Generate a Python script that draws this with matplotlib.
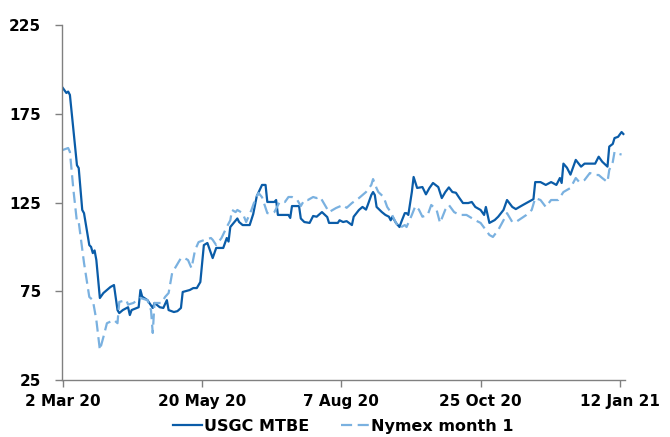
import numpy as np
import pandas as pd
import matplotlib
matplotlib.use("Agg")
import matplotlib.pyplot as plt

start = pd.Timestamp("2020-03-02")

# USGC MTBE, days since 2 Mar 20
mtbe_days = [0, 2, 3, 4, 6, 8, 9, 11, 12, 15, 16, 17, 18, 19, 21, 23, 25, 27, 29, 31,
             32, 34, 37, 38, 39, 43, 44, 45, 48, 51, 52, 55, 57, 59, 60, 63, 65, 67, 68, 72,
             74, 76, 78, 80, 82, 85, 87, 91, 93, 94, 95, 99, 100, 102, 106, 108, 110, 113, 115, 116,
             120, 121, 122, 128, 129, 130, 134, 135, 137, 140, 142, 144, 147, 150, 151, 156, 157, 159, 161, 164,
             165, 168, 170, 172, 173, 175, 176, 177, 178, 181, 183, 185, 186, 187, 189, 191, 192, 194, 195, 196,
             198, 199, 201, 204, 206, 208, 210, 213, 215, 217, 219, 221, 223, 225, 227, 230, 232, 234, 237, 239,
             240, 242, 245, 247, 250, 252, 255, 257, 261, 267, 268, 271, 274, 277, 278, 280, 282, 283, 284, 286,
             288, 291, 294, 296, 302, 304, 306, 309, 310, 312, 313, 315, 317, 318]
mtbe_vals = [189.5, 186.7, 187.5, 185.6, 165.8, 146.0, 144.4, 120.8, 119.0, 101.0, 100.0, 96.5, 98.0, 92.6, 71.2, 74.0, 75.7, 77.4, 78.5, 64.4,
             62.7, 64.4, 66.0, 61.6, 64.4, 66.0, 75.7, 72.0, 70.0, 65.6, 68.4, 66.0, 65.6, 70.0, 64.4, 63.3, 63.8, 65.6, 74.6, 75.7,
             76.8, 76.8, 80.2, 101.0, 102.2, 93.7, 99.4, 99.4, 105.0, 103.0, 111.2, 116.0, 114.0, 112.3, 112.3, 118.5, 128.5, 134.9, 134.9, 125.3,
             125.3, 126.4, 118.0, 118.0, 116.3, 123.0, 123.0, 116.0, 114.0, 113.5, 117.4, 117.0, 119.6, 116.8, 113.5, 113.5, 115.0, 114.0, 114.5, 112.3,
             117.0, 120.8, 122.5, 121.0, 123.6, 129.2, 130.9, 129.2, 122.5, 119.6, 118.0, 117.0, 115.0, 117.0, 113.5, 111.2, 114.0, 119.0, 119.0, 118.0,
             130.9, 139.4, 133.2, 133.7, 129.6, 133.2, 136.0, 133.7, 127.5, 130.9, 133.5, 130.9, 130.5, 127.5, 124.7, 124.7, 125.3, 122.5, 120.8, 118.0,
             122.5, 113.5, 115.1, 117.0, 120.8, 126.4, 122.5, 121.3, 123.6, 126.9, 136.5, 136.5, 134.9, 136.5, 136.0, 134.9, 138.8, 136.0, 146.9, 144.6,
             140.7, 149.0, 145.2, 146.9, 146.9, 150.8, 148.0, 145.2, 156.5, 158.0, 161.3, 162.0, 164.7, 163.6]

# Nymex month 1
nymex_days = [0, 3, 4, 6, 8, 9, 12, 15, 17, 19, 21, 23, 25, 29, 31, 32, 36, 37, 40, 44,
              48, 50, 51, 52, 54, 56, 58, 60, 62, 64, 67, 69, 71, 73, 75, 77, 80, 84, 85, 87,
              90, 93, 95, 96, 98, 99, 102, 104, 107, 109, 111, 113, 116, 119, 120, 123, 126, 128, 130, 133,
              135, 137, 139, 142, 144, 146, 148, 151, 155, 159, 161, 164, 168, 172, 175, 176, 178, 179, 182, 184,
              186, 189, 191, 194, 195, 198, 200, 202, 204, 207, 209, 212, 214, 217, 219, 222, 225, 229, 231, 234,
              237, 240, 242, 244, 247, 250, 252, 255, 257, 263, 266, 268, 271, 274, 277, 281, 284, 288, 291, 293,
              296, 299, 302, 304, 306, 309, 310, 312, 313, 315, 317]
nymex_vals = [154.6, 155.7, 153.5, 132.0, 114.0, 114.0, 91.0, 71.8, 70.0, 58.8, 41.9, 49.2, 57.0, 58.8, 57.0, 69.0, 70.0, 67.5, 68.4, 71.2,
              70.0, 64.4, 51.5, 68.4, 68.4, 68.4, 71.8, 74.0, 85.3, 88.7, 93.7, 93.7, 92.6, 88.0, 98.2, 102.7, 103.8, 105.0, 104.0, 101.0,
              105.0, 111.2, 115.0, 120.8, 119.6, 120.8, 119.0, 114.0, 120.8, 126.4, 130.4, 128.0, 119.0, 119.0, 119.6, 125.3, 125.3, 128.1, 128.1, 126.4,
              123.0, 126.4, 126.4, 128.1, 127.5, 128.1, 124.7, 119.6, 121.9, 123.6, 122.0, 124.7, 127.5, 130.9, 134.9, 138.2, 133.0, 130.9, 128.1, 122.5,
              119.6, 113.5, 110.6, 112.3, 111.2, 118.0, 123.0, 121.0, 117.0, 118.0, 123.6, 121.0, 113.5, 121.0, 123.6, 119.6, 118.0, 118.0, 116.8, 115.0,
              113.5, 109.5, 106.7, 105.6, 109.5, 115.0, 119.0, 114.0, 114.0, 118.0, 120.8, 127.5, 126.4, 122.5, 126.4, 126.4, 130.9, 133.2, 138.8, 136.5,
              137.7, 141.6, 140.5, 140.5, 138.8, 136.5, 143.3, 147.8, 153.5, 152.5, 152.0]

tick_dates = ["2020-03-02", "2020-05-20", "2020-08-07", "2020-10-25", "2021-01-12"]
tick_labels = ["2 Mar 20", "20 May 20", "7 Aug 20", "25 Oct 20", "12 Jan 21"]
y_ticks = [25, 75, 125, 175, 225]

dark = "#0A5CA8"
light = "#7AB1E0"

mtbe_x = start + pd.to_timedelta(mtbe_days, unit="D")
nymex_x = start + pd.to_timedelta(nymex_days, unit="D")

plt.rcParams["font.family"] = "DejaVu Sans"
plt.rcParams["font.weight"] = "bold"

fig = plt.figure(figsize=(6.7, 4.37), dpi=100)
ax = fig.add_axes([0.0925, 0.1304, 0.8405, 0.8124])

ax.plot(mtbe_x, mtbe_vals, color=dark, lw=1.6, label="USGC MTBE")
ax.plot(nymex_x, nymex_vals, color=light, lw=1.6, dashes=(5, 2.5), label="Nymex month 1")

ax.set_ylim(25, 225)
ax.set_yticks(y_ticks)
ax.set_xlim(start - pd.Timedelta(days=0.5), start + pd.Timedelta(days=319))
ax.set_xticks(pd.to_datetime(tick_dates))
ax.set_xticklabels(tick_labels)

for s in ["top", "right"]:
    ax.spines[s].set_visible(False)
for s in ["left", "bottom"]:
    ax.spines[s].set_color("#808080")
    ax.spines[s].set_linewidth(1.0)
ax.tick_params(axis="both", colors="#808080", labelcolor="black", labelsize=11, length=5, width=1)
ax.tick_params(axis="y", pad=10)
ax.tick_params(axis="x", pad=5)
for lab in ax.get_xticklabels() + ax.get_yticklabels():
    lab.set_fontweight("bold")

leg = ax.legend(loc="upper center", bbox_to_anchor=(0.5, -0.078), ncol=2, frameon=False,
                fontsize=11.5, handlelength=1.8, handletextpad=0.1, columnspacing=2.0,
                borderpad=0.2)

fig.savefig("out.png", dpi=100)
